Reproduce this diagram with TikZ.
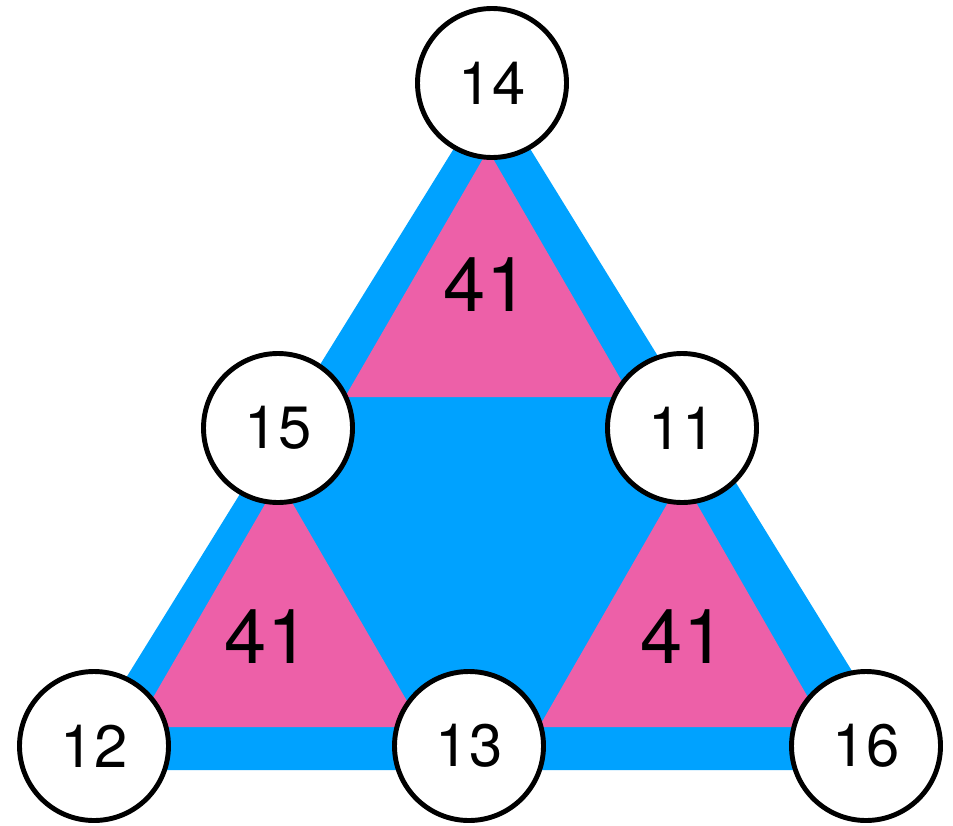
\documentclass[tikz,border=0pt]{standalone}
\usepackage{fontspec}
\setmainfont{TeX Gyre Heros}
\definecolor{triblue}{RGB}{0,162,255}
\definecolor{tripink}{RGB}{237,96,168}

\begin{document}
\begin{tikzpicture}[
    every node/.style={align=center},
    vert/.style={circle, draw=black, line width=1.4pt, fill=white, minimum size=1.49cm, inner sep=0pt, font=\fontsize{17}{20}\selectfont},
    sumlbl/.style={inner sep=0pt, font=\fontsize{21.6}{24}\selectfont},
    outer/.style={fill=triblue},
    corner/.style={fill=tripink}
]
\useasboundingbox (0,0) rectangle (9.53,8.25);
\fill[outer] (0.69,0.55) -- (9.13,0.55) -- (4.92,7.38) -- cycle;
\fill[corner] (4.88,6.75) -- (3.45,4.28) -- (6.31,4.28) -- cycle;
\fill[corner] (2.79,3.45) -- (1.36,0.98) -- (4.22,0.98) -- cycle;
\fill[corner] (6.82,3.47) -- (5.39,0.98) -- (8.25,0.98) -- cycle;
\node[sumlbl] (s1) at (4.86, 5.40) {41};
\node[sumlbl] (s2) at (2.67, 1.88) {41};
\node[sumlbl] (s3) at (6.83, 1.88) {41};
\node[vert] (v14) at (4.92, 7.42) {14};
\node[vert] (v15) at (2.78, 3.97) {15};
\node[vert] (v11) at (6.82, 3.97) {11};
\node[vert] (v12) at (0.94, 0.79) {12};
\node[vert] (v13) at (4.69, 0.79) {13};
\node[vert] (v16) at (8.66, 0.79) {16};
\end{tikzpicture}
\end{document}
